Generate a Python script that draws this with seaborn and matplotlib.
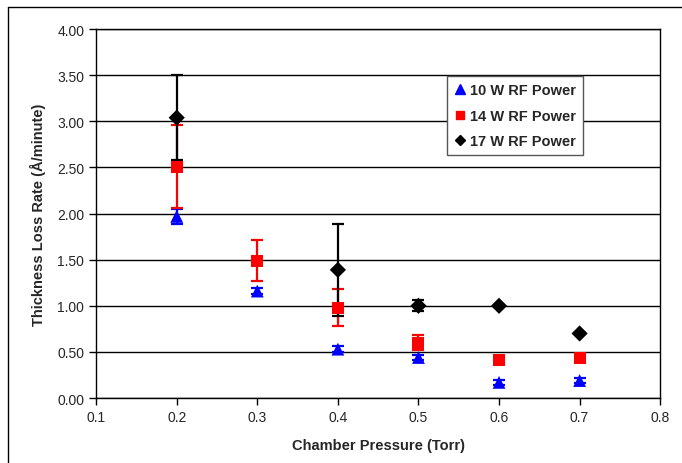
import matplotlib
matplotlib.use("Agg")
import matplotlib.pyplot as plt
import seaborn as sns
import pandas as pd
from matplotlib.lines import Line2D

# data
pressure_10w = [0.2, 0.3, 0.4, 0.5, 0.6, 0.7]
rate_10w = [1.97, 1.16, 0.53, 0.44, 0.17, 0.19]
err_10w = [0.08, 0.03, 0.03, 0.03, 0.03, 0.03]

pressure_14w = [0.2, 0.3, 0.4, 0.5, 0.6, 0.7]
rate_14w = [2.51, 1.49, 0.98, 0.60, 0.41, 0.43]
err_14w = [0.45, 0.22, 0.20, 0.08, 0.02, 0.02]

pressure_17w = [0.2, 0.4, 0.5, 0.6, 0.7]
rate_17w = [3.04, 1.39, 1.00, 1.00, 0.70]
err_17w = [0.46, 0.50, 0.06, 0.01, 0.01]

labels = ["10 W RF Power", "14 W RF Power", "17 W RF Power"]
colors = ["#0000ff", "#ff0000", "#000000"]
markers = ["^", "s", "D"]
marker_areas = [85, 75, 68]

rows = []
for lab, xs, ys, es in zip(labels, [pressure_10w, pressure_14w, pressure_17w],
                           [rate_10w, rate_14w, rate_17w], [err_10w, err_14w, err_17w]):
    for x, y, e in zip(xs, ys, es):
        rows.append({"Pressure": x, "Rate": y, "Err": e, "Series": lab})
df = pd.DataFrame(rows)

sns.set_style("white")
plt.rcParams["font.family"] = ["Liberation Sans", "DejaVu Sans"]

fig = plt.figure(figsize=(6.82, 4.64), dpi=100)
ax = fig.add_axes([0.141, 0.140, 0.827, 0.795])

for lab, col in zip(labels, colors):
    d = df[df["Series"] == lab]
    ax.errorbar(d["Pressure"], d["Rate"], yerr=d["Err"], fmt="none",
                ecolor=col, elinewidth=1.6, capsize=4, capthick=1.6, zorder=3)

sns.scatterplot(data=df, x="Pressure", y="Rate", hue="Series", style="Series", size="Series",
                hue_order=labels, style_order=labels, size_order=labels,
                palette=dict(zip(labels, colors)), markers=dict(zip(labels, markers)),
                sizes=dict(zip(labels, marker_areas)),
                edgecolor="none", linewidth=0, ax=ax, zorder=4, legend=False)

ax.set_xlim(0.1, 0.8)
ax.set_ylim(0, 4)
ax.set_xticks([0.1, 0.2, 0.3, 0.4, 0.5, 0.6, 0.7, 0.8])
ax.set_xticklabels(["0.1", "0.2", "0.3", "0.4", "0.5", "0.6", "0.7", "0.8"])
ax.set_yticks([0, 0.5, 1, 1.5, 2, 2.5, 3, 3.5, 4])
ax.set_yticklabels([f"{v:.2f}" for v in [0, 0.5, 1, 1.5, 2, 2.5, 3, 3.5, 4]])
ax.yaxis.grid(True, color="black", linewidth=1)
ax.xaxis.grid(False)
ax.set_axisbelow(True)
for sp in ax.spines.values():
    sp.set_color("black")
    sp.set_linewidth(1)
ax.tick_params(axis="both", direction="out", length=5, width=1, color="black",
               labelsize=10, bottom=True, left=True)

ax.set_xlabel("Chamber Pressure (Torr)", fontsize=10.5, fontweight="bold", labelpad=10)
ax.set_ylabel("Thickness Loss Rate (Å/minute)", fontsize=10.5, fontweight="bold", labelpad=8)

handles = [Line2D([], [], linestyle="none", marker=m, color=c, markersize=ms)
           for m, c, ms in zip(markers, colors, [6.5, 6, 5.2])]
leg = ax.legend(handles, labels, loc="upper left", bbox_to_anchor=(0.622, 0.872),
                frameon=True, fancybox=False, edgecolor="#555555", framealpha=1,
                prop={"weight": "bold", "size": 10.5}, handletextpad=0.25,
                handlelength=0.9, borderpad=0.45, labelspacing=0.8, borderaxespad=0)
leg.get_frame().set_linewidth(1)

# outer border, only top and left are visible in the reference
fig.add_artist(Line2D([0.011, 1.0], [0.983, 0.983], transform=fig.transFigure,
                      color="black", linewidth=1))
fig.add_artist(Line2D([0.011, 0.011], [0.0, 0.983], transform=fig.transFigure,
                      color="black", linewidth=1))

fig.savefig("out.png", dpi=100)
